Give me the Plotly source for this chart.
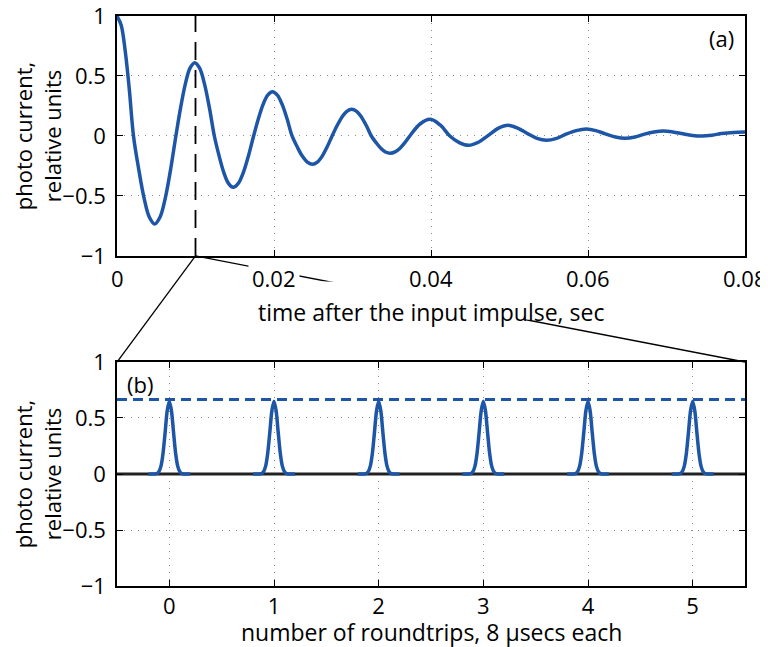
import plotly.graph_objects as go

# ---------------- data ----------------
# (a) photo current vs time after the input impulse
t_sec = [0.0, 0.000525, 0.00105, 0.001575, 0.0021,
         0.002775, 0.00345, 0.004125, 0.0048, 0.005475, 0.00615, 0.006825, 0.0075,
         0.0081, 0.0087, 0.0093, 0.0099, 0.010525, 0.01115, 0.011775, 0.0124,
         0.0130, 0.0136, 0.0142, 0.0148, 0.01545, 0.0161, 0.01675, 0.0174,
         0.0180, 0.0186, 0.0192, 0.0198, 0.020425, 0.02105, 0.021675, 0.0223,
         0.02295, 0.0236, 0.02425, 0.0249, 0.025525, 0.02615, 0.026775, 0.0274,
         0.028025, 0.02865, 0.029275, 0.0299, 0.030525, 0.03115, 0.031775, 0.0324,
         0.0330, 0.0336, 0.0342, 0.0348, 0.035425, 0.03605, 0.036675, 0.0373,
         0.0386, 0.0399, 0.0412, 0.0424, 0.0436,
         0.0448, 0.0461, 0.0473, 0.0486, 0.0498, 0.0511, 0.0523, 0.0535, 0.0547,
         0.0560, 0.0572, 0.0585, 0.0598, 0.0610, 0.0622, 0.0635, 0.0647, 0.0660,
         0.0672, 0.0684, 0.0696, 0.0708, 0.0721, 0.0733, 0.0745, 0.0758, 0.0770,
         0.0785, 0.0800]
photo = [1.0, 0.924, 0.707, 0.383, 0.0,
         -0.28, -0.518, -0.677, -0.733, -0.677, -0.518, -0.28, 0.0,
         0.234, 0.432, 0.565, 0.611, 0.565, 0.432, 0.234, 0.0,
         -0.164, -0.303, -0.395, -0.428, -0.395, -0.303, -0.164, 0.0,
         0.141, 0.261, 0.341, 0.369, 0.341, 0.261, 0.141, 0.0,
         -0.09, -0.167, -0.218, -0.236, -0.218, -0.167, -0.09, 0.0,
         0.085, 0.157, 0.205, 0.222, 0.205, 0.157, 0.085, 0.0,
         -0.055, -0.102, -0.133, -0.144, -0.133, -0.102, -0.055, 0.0,
         0.10, 0.139, 0.09, 0.0, -0.055,
         -0.078, -0.05, 0.005, 0.065, 0.089, 0.063, 0.02, -0.02, -0.036,
         -0.02, 0.015, 0.045, 0.058, 0.045, 0.018, -0.008, -0.019, -0.008,
         0.016, 0.034, 0.042, 0.034, 0.018, 0.005, 0.0, 0.007, 0.02,
         0.03, 0.033]

# (b) pulses per roundtrip
roundtrips = [0, 1, 2, 3, 4, 5]
pulse_offset = [-0.2, -0.12, -0.1, -0.08, -0.06, -0.04, -0.02, 0.0,
                0.02, 0.04, 0.06, 0.08, 0.1, 0.12, 0.2]
pulse_value = [0.0, 0.004, 0.02, 0.07, 0.186, 0.373, 0.566, 0.65,
               0.566, 0.373, 0.186, 0.07, 0.02, 0.004, 0.0]
peak_level = 0.665

zoom_time = 0.01
top_range = [0, 0.08]
bot_range = [-0.5, 5.5]
y_range = [-1, 1]
top_xticks = [0, 0.02, 0.04, 0.06, 0.08]
top_xticklabels = ["0", "0.02", "0.04", "0.06", "0.08"]
yticks = [-1, -0.5, 0, 0.5, 1]
ytick_labels = ["\u22121", "\u22120.5", "0", "0.5", "1"]
bot_xticks = [0, 1, 2, 3, 4, 5]

BLUE = "#1d56a6"
FONT = "Open Sans"
TICK_SIZE = 22
LAB_SIZE = 23
YLAB_SIZE = 22

top_dom = [0.579, 1.0]
bot_dom = [0.0, 0.393]

fig = go.Figure()

# (a)
fig.add_trace(go.Scatter(x=[zoom_time, zoom_time], y=y_range, mode="lines",
                         line=dict(color="black", width=1.8, dash="18px,10px"),
                         xaxis="x", yaxis="y", hoverinfo="skip"))
fig.add_trace(go.Scatter(x=t_sec, y=photo, mode="lines",
                         line=dict(color=BLUE, width=3.5, shape="spline", smoothing=1.0),
                         xaxis="x", yaxis="y"))

# (b)
fig.add_trace(go.Scatter(x=bot_range, y=[0, 0], mode="lines",
                         line=dict(color="#222222", width=3.2),
                         xaxis="x2", yaxis="y2", hoverinfo="skip"))
fig.add_trace(go.Scatter(x=bot_range, y=[peak_level, peak_level], mode="lines",
                         line=dict(color=BLUE, width=3.2, dash="10px,6px"),
                         xaxis="x2", yaxis="y2", hoverinfo="skip"))
px, py = [], []
for k in roundtrips:
    px += [k + o for o in pulse_offset] + [None]
    py += list(pulse_value) + [None]
fig.add_trace(go.Scatter(x=px, y=py, mode="lines",
                         line=dict(color=BLUE, width=3.5, shape="spline", smoothing=0.8),
                         xaxis="x2", yaxis="y2"))

axis_common = dict(showline=True, linecolor="black", linewidth=1.5, mirror="ticks",
                   ticks="inside", ticklen=6, tickcolor="black", tickwidth=1,
                   showgrid=True, gridcolor="#8a8a8a", griddash="1px,6px", gridwidth=1,
                   zeroline=False, automargin=False, ticklabeloverflow="allow",
                   tickfont=dict(family=FONT, size=TICK_SIZE, color="black"))

ytitle = dict(text="photo current,<br>relative units",
              font=dict(family=FONT, size=YLAB_SIZE), standoff=0)

# page body has an 8px margin: figure is sized so the plot lands where the reference has it
fig.update_layout(
    width=760, height=639,
    margin=dict(l=109, r=23, t=8, b=61),
    paper_bgcolor="white", plot_bgcolor="white",
    showlegend=False,
    font=dict(family=FONT, color="black"),
    xaxis=dict(domain=[0, 1], range=top_range, anchor="y", tickvals=top_xticks,
               showticklabels=False, **axis_common),
    yaxis=dict(domain=top_dom, range=y_range, anchor="x", tickvals=yticks,
               ticktext=ytick_labels, ticklabelstandoff=5, title=ytitle,
               **axis_common),
    xaxis2=dict(domain=[0, 1], range=bot_range, anchor="y2", tickvals=bot_xticks,
                ticklabelstandoff=0, **axis_common),
    yaxis2=dict(domain=bot_dom, range=y_range, anchor="x2", tickvals=yticks,
                ticktext=ytick_labels, ticklabelstandoff=5, title=ytitle,
                **axis_common),
)

# connecting lines from the zoom point to the corners of panel (b)
for xend in top_range:
    fig.add_shape(type="line", xref="x", yref="paper",
                  x0=zoom_time, y0=top_dom[0], x1=xend, y1=bot_dom[1],
                  line=dict(color="black", width=1.3), layer="above")

# white box behind the (a) axis label that interrupts the connecting line
fig.add_annotation(x=0.5, xref="x domain", y=top_dom[0], yref="paper", text=" ",
                   showarrow=False, yanchor="middle", yshift=-44.5,
                   width=360, height=37, borderpad=0, bgcolor="white")

# top x tick labels (masked background, drawn over connecting line)
for v, lab in zip(top_xticks, top_xticklabels):
    fig.add_annotation(x=v, xref="x", y=top_dom[0], yref="paper", text=lab,
                       showarrow=False, yanchor="middle", yshift=-22,
                       bgcolor="white", borderpad=3,
                       font=dict(family=FONT, size=TICK_SIZE, color="black"))

fig.add_annotation(x=0.5, xref="x domain", y=top_dom[0], yref="paper",
                   text="time after the input impulse, sec", showarrow=False,
                   yanchor="middle", yshift=-56,
                   font=dict(family=FONT, size=LAB_SIZE, color="black"))

fig.add_annotation(x=0.5, xref="x2 domain", y=bot_dom[0], yref="paper",
                   text="number of roundtrips, 8 \u03bcsecs each", showarrow=False,
                   yanchor="middle", yshift=-46,
                   font=dict(family=FONT, size=LAB_SIZE, color="black"))

fig.add_annotation(x=0.985, xref="x domain", y=0.91, yref="y domain", text="(a)",
                   showarrow=False, xanchor="right", yanchor="middle",
                   font=dict(family=FONT, size=YLAB_SIZE, color="black"))
fig.add_annotation(x=0.012, xref="x2 domain", y=0.9, yref="y2 domain", text="(b)",
                   showarrow=False, xanchor="left", yanchor="middle",
                   font=dict(family=FONT, size=YLAB_SIZE, color="black"))

fig.write_html("out.html")
